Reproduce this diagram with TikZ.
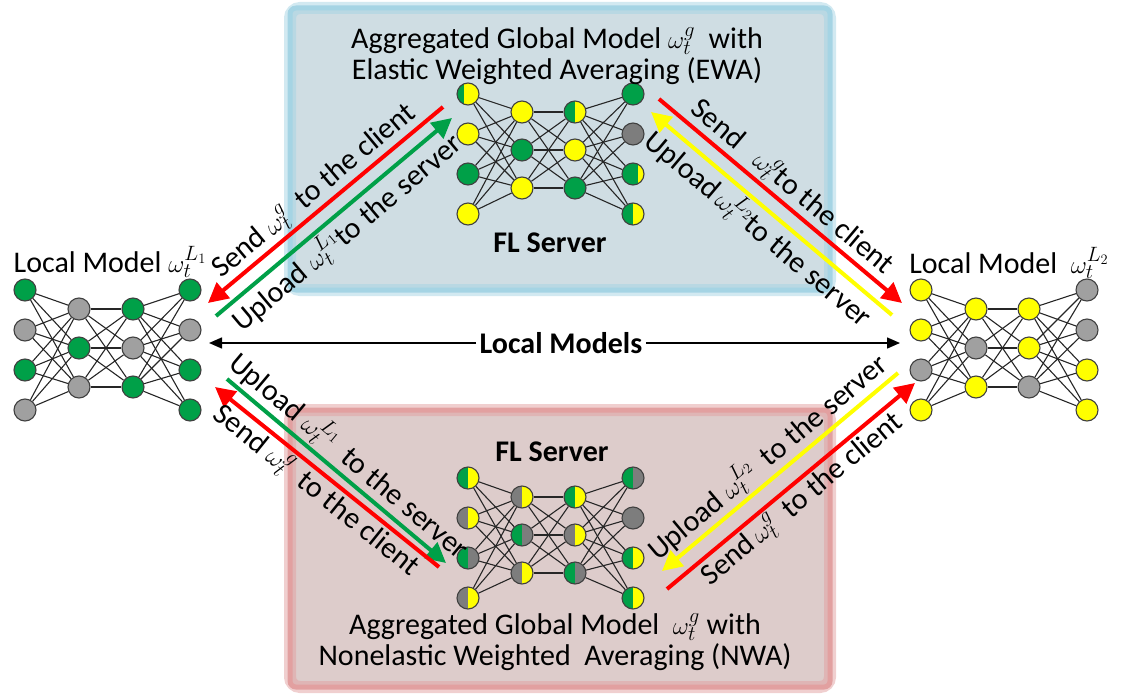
\documentclass[tikz,border=0pt]{standalone}
\usepackage{fontspec}
\setmainfont{Carlito}
\usepackage{tikz}
\usetikzlibrary{arrows.meta}
\definecolor{ngreen}{RGB}{0,160,72}
\definecolor{nyellow}{RGB}{255,255,0}
\definecolor{lgray}{RGB}{160,160,160}
\definecolor{dgray}{RGB}{125,125,125}
\definecolor{ewafill}{RGB}{207,221,227}
\definecolor{ewaglow}{RGB}{165,212,228}
\definecolor{nwafill}{RGB}{221,204,203}
\definecolor{nwaglow}{RGB}{226,160,160}
\tikzstyle{unit} = [circle, draw=black!75, line width=1.1pt, minimum size=22pt, inner sep=0pt]
\tikzstyle{link} = [line width=1.1pt, black!85]
\tikzstyle{gn} = [fill=ngreen]
\tikzstyle{ye} = [fill=nyellow]
\tikzstyle{lg} = [fill=lgray]
\tikzstyle{dg} = [fill=dgray]
\tikzset{split/.style n args={3}{fill=#2, path picture={\fill[#1] (path picture bounding box.south west) rectangle ([xshift=#3]path picture bounding box.north west);}}}
\tikzstyle{gnye} = [split={ngreen}{nyellow}{11pt}]
\tikzstyle{gnyen} = [split={ngreen}{nyellow}{7pt}]
\tikzstyle{gnyew} = [split={ngreen}{nyellow}{16pt}]
\tikzstyle{dgye} = [split={dgray}{nyellow}{11pt}]
\tikzstyle{gndg} = [split={ngreen}{dgray}{11pt}]
\tikzstyle{send} = [line width=4pt, red, -{Triangle[length=20pt, width=20pt]}]
\tikzstyle{upgreen} = [line width=4pt, ngreen, -{Triangle[length=20pt, width=20pt]}]
\tikzstyle{upyellow} = [line width=4pt, nyellow, -{Triangle[length=20pt, width=20pt]}]
\tikzstyle{thinarrow} = [line width=1.5pt, -{Triangle[length=13pt, width=11pt]}]
\tikzstyle{lab} = [midway, sloped, inner sep=2pt, text=black]

\begin{document}
\begin{tikzpicture}[x=1pt, y=-1pt, font=\fontsize{30}{31}\selectfont]
\useasboundingbox (0,0) rectangle (1126,693);
% server boxes
\fill[ewafill] (290,8) rectangle (830,290);
\draw[ewaglow, line width=12pt, opacity=0.5, rounded corners=10pt] (290,8) rectangle (830,290);
\draw[ewaglow, line width=5pt, rounded corners=6pt] (290,8) rectangle (830,290);
\fill[nwafill] (290,410) rectangle (830,687);
\draw[nwaglow, line width=12pt, opacity=0.5, rounded corners=10pt] (290,410) rectangle (830,687);
\draw[nwaglow, line width=5pt, rounded corners=6pt] (290,410) rectangle (830,687);

% local model 1
\foreach \s [count=\i] in {gn,lg,gn,lg} \node[unit,\s] (lm1-a-\i) at (25,250+40*\i) {};
\foreach \s [count=\i] in {lg,gn,lg} \node[unit,\s] (lm1-b-\i) at (79,270+39*\i) {};
\foreach \s [count=\i] in {gn,lg,gn} \node[unit,\s] (lm1-c-\i) at (133,270+39*\i) {};
\foreach \s [count=\i] in {gn,lg,gn,gn} \node[unit,\s] (lm1-d-\i) at (190,250+40*\i) {};
% local model 2
\foreach \s [count=\i] in {ye,ye,lg,ye} \node[unit,\s] (lm2-a-\i) at (921,250+40*\i) {};
\foreach \s [count=\i] in {ye,lg,ye} \node[unit,\s] (lm2-b-\i) at (976,270+39*\i) {};
\foreach \s [count=\i] in {ye,ye,lg} \node[unit,\s] (lm2-c-\i) at (1029,270+39*\i) {};
\foreach \s [count=\i] in {lg,lg,ye,ye} \node[unit,\s] (lm2-d-\i) at (1087,250+40*\i) {};
% EWA server
\foreach \s [count=\i] in {gnyen,ye,gn,ye} \node[unit,\s] (ewa-a-\i) at (468,54+40*\i) {};
\foreach \s [count=\i] in {ye,gn,ye} \node[unit,\s] (ewa-b-\i) at (522,74+38*\i) {};
\foreach \s [count=\i] in {gnye,ye,gn} \node[unit,\s] (ewa-c-\i) at (575,74+38*\i) {};
\foreach \s [count=\i] in {gn,dg,gnyew,gnye} \node[unit,\s] (ewa-d-\i) at (633,54+40*\i) {};
% NWA server
\foreach \s [count=\i] in {gnye,dgye,gndg,dgye} \node[unit,\s] (nwa-a-\i) at (468,438+40*\i) {};
\foreach \s [count=\i] in {dgye,gndg,dgye} \node[unit,\s] (nwa-b-\i) at (522,459+38*\i) {};
\foreach \s [count=\i] in {gnye,dgye,gndg} \node[unit,\s] (nwa-c-\i) at (575,459+38*\i) {};
\foreach \s [count=\i] in {gndg,dg,gnye,gnye} \node[unit,\s] (nwa-d-\i) at (633,438+40*\i) {};

\foreach \m in {lm1,lm2,ewa,nwa}{
  \foreach \i in {1,...,4} \foreach \j in {1,2,3} {
    \draw[link] (\m-a-\i) -- (\m-b-\j);
    \draw[link] (\m-c-\j) -- (\m-d-\i);
  }
  \foreach \i in {1,2,3} \foreach \j in {1,2,3} \draw[link] (\m-b-\i) -- (\m-c-\j);
}

% texts
\node[align=center] (ewatitle) at (557,56) {Aggregated Global Model $\omega_t^g$\ \ with\\Elastic Weighted Averaging (EWA)};
\node[font=\fontsize{30}{31}\selectfont\bfseries] (ewaname) at (550,243) {FL Server};
\node[font=\fontsize{30}{31}\selectfont\bfseries] (nwaname) at (552,452) {FL Server};
\node[align=center] (nwatitle) at (555,642) {Aggregated Global Model \ $\omega_t^g$ with\\Nonelastic Weighted \ Averaging (NWA)};
\node[anchor=base] (lm1name) at (110,272) {Local Model $\omega_t^{L_1}$};
\node[anchor=base] (lm2name) at (1009,273) {Local Model \ $\omega_t^{L_2}$};
\node[font=\fontsize{30}{31}\selectfont\bfseries] (lms) at (561,343) {Local Models};
\coordinate (lmsl) at (209,343);
\coordinate (lmsr) at (900,343);
\draw[thinarrow] (lms) -- (lmsl);
\draw[thinarrow] (lms) -- (lmsr);

% arrows to and from the EWA server
\coordinate (tls1) at (443,107); \coordinate (tls2) at (208,303);
\coordinate (tlu1) at (216,316); \coordinate (tlu2) at (452,118);
\coordinate (trs1) at (659,99); \coordinate (trs2) at (902,303);
\coordinate (tru1) at (892,315); \coordinate (tru2) at (651,112);
\draw[send] (tls1) -- node[lab, above] {Send $\omega_t^g$\ \ to the client} (tls2);
\draw[upgreen] (tlu1) -- node[lab, below] {Upload $\omega_t^{L_1}$to the server} (tlu2);
\draw[send] (trs1) -- node[lab, above] {Send \ \ $\omega_t^g$to the client} (trs2);
\draw[upyellow] (tru1) -- node[lab, below] {Upload$\,\omega_t^{L_2}$to the server} (tru2);

% arrows to and from the NWA server
\coordinate (blu1) at (227,379); \coordinate (blu2) at (446,563);
\coordinate (bls1) at (439,567); \coordinate (bls2) at (215,387);
\coordinate (bru1) at (898,373); \coordinate (bru2) at (662,571);
\coordinate (brs1) at (667,589); \coordinate (brs2) at (915,383);
\draw[upgreen] (blu1) -- node[lab, above] {Upload $\omega_t^{L_1}$\ \ to the server} (blu2);
\draw[send] (bls1) -- node[lab, below] {Send $\omega_t^g$\ \ to the client} (bls2);
\draw[upyellow] (bru1) -- node[lab, above] {Upload $\omega_t^{L_2}$\ \ to the server} (bru2);
\draw[send] (brs1) -- node[lab, below] {Send$\,\omega_t^g$\ \ to the client} (brs2);
\end{tikzpicture}
\end{document}
